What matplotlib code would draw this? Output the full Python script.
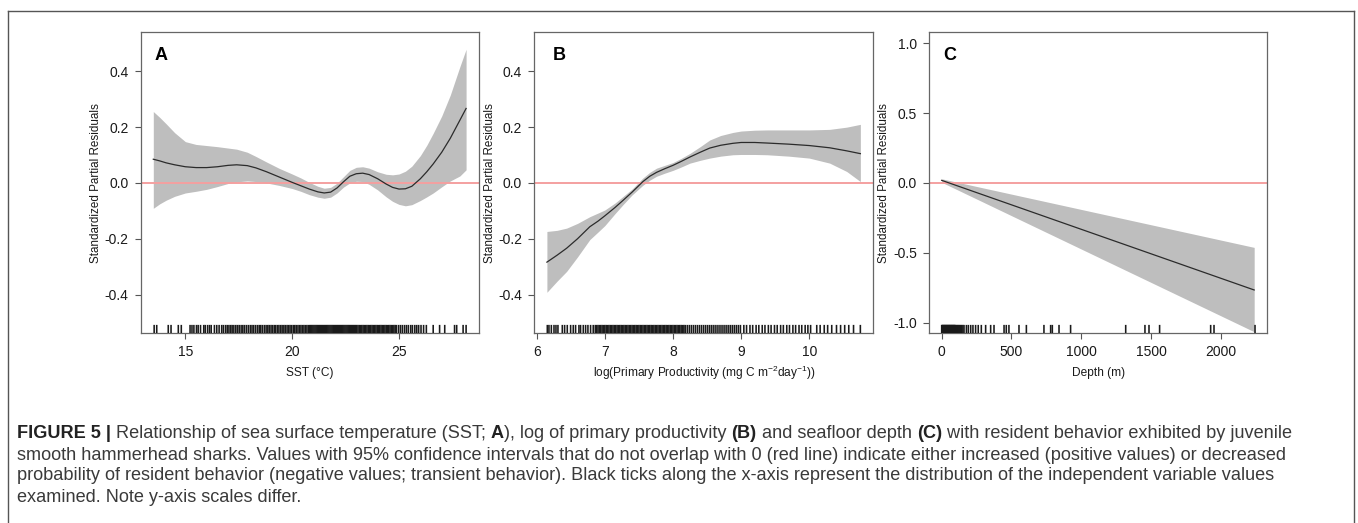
import matplotlib
matplotlib.use("Agg")
import matplotlib.pyplot as plt
from matplotlib.lines import Line2D

plt.rcParams['font.family'] = ['Liberation Sans', 'DejaVu Sans']
plt.rcParams['axes.unicode_minus'] = False
plt.rcParams['mathtext.fontset'] = 'custom'
plt.rcParams['mathtext.rm'] = 'Liberation Sans'
plt.rcParams['mathtext.it'] = 'Liberation Sans:italic'
plt.rcParams['mathtext.bf'] = 'Liberation Sans:bold'

# ---------------- data ----------------
# Panel A: SST
sst_x = [13.5, 13.8, 14.1, 14.5, 15.0, 15.5, 16.0, 16.5, 17.0, 17.4, 17.9, 18.3, 18.8, 19.4,
         20.0, 20.4, 20.8, 21.2, 21.5, 21.8, 22.1, 22.4, 22.7, 23.0, 23.3, 23.6, 24.0, 24.4,
         24.7, 25.0, 25.3, 25.6, 26.0, 26.3, 26.6, 27.0, 27.4, 27.85, 28.14]
sst_fit = [0.085, 0.079, 0.072, 0.065, 0.058, 0.055, 0.055, 0.058, 0.063, 0.065, 0.062, 0.054,
           0.040, 0.021, 0.002, -0.010, -0.022, -0.032, -0.036, -0.033, -0.018, 0.004, 0.024,
           0.033, 0.035, 0.030, 0.015, -0.004, -0.016, -0.022, -0.021, -0.012, 0.015, 0.040,
           0.068, 0.110, 0.160, 0.225, 0.267]
sst_upper = [0.256, 0.235, 0.212, 0.180, 0.148, 0.138, 0.134, 0.130, 0.125, 0.121, 0.110, 0.095,
             0.075, 0.052, 0.032, 0.018, 0.002, -0.012, -0.019, -0.016, -0.001, 0.022, 0.045,
             0.056, 0.058, 0.053, 0.040, 0.031, 0.029, 0.032, 0.042, 0.060, 0.098, 0.135, 0.178,
             0.240, 0.315, 0.417, 0.479]
sst_lower = [-0.091, -0.075, -0.062, -0.048, -0.036, -0.030, -0.023, -0.013, -0.002, 0.004, 0.007,
             0.005, 0.000, -0.009, -0.020, -0.030, -0.042, -0.051, -0.055, -0.051, -0.036, -0.015,
             0.000, 0.006, 0.005, -0.005, -0.025, -0.050, -0.066, -0.077, -0.082, -0.078, -0.063,
             -0.050, -0.036, -0.014, 0.007, 0.025, 0.047]
sst_rug = [13.54, 13.66, 14.20, 14.33, 14.67, 14.81,
           15.22, 15.31, 15.40, 15.52, 15.60, 15.71, 15.86, 15.93, 16.04, 16.13, 16.21, 16.36, 16.47,
           16.58, 16.70, 16.78, 16.88, 16.96, 17.04, 17.12, 17.19, 17.27, 17.36, 17.44, 17.52, 17.61,
           17.69, 17.77, 17.86, 17.95, 18.04, 18.12, 18.20, 18.29, 18.38, 18.46, 18.53, 18.61, 18.70,
           18.78, 18.86, 18.93, 19.01, 19.08, 19.16, 19.23, 19.31, 19.38, 19.46, 19.53, 19.61, 19.68,
           19.76, 19.83, 19.90, 19.97, 20.05, 20.12, 20.19, 20.27, 20.34, 20.41, 20.48, 20.55, 20.62,
           20.69, 20.76,
           20.82, 20.87, 20.92, 20.97, 21.02, 21.07, 21.12, 21.17, 21.22, 21.27, 21.32, 21.37, 21.42,
           21.47, 21.52, 21.57, 21.62, 21.67, 21.72, 21.77, 21.82, 21.87, 21.92, 21.97, 22.02, 22.07,
           22.12, 22.17, 22.22, 22.27, 22.32, 22.37, 22.42, 22.47, 22.52, 22.57, 22.62, 22.67, 22.72,
           22.77, 22.82, 22.87, 22.92, 22.97, 23.02,
           23.08, 23.14, 23.20, 23.26, 23.32, 23.38, 23.44, 23.50, 23.56, 23.62, 23.68, 23.74, 23.80,
           23.86, 23.92, 23.98, 24.04, 24.10, 24.16, 24.22, 24.28, 24.34, 24.40, 24.46, 24.52, 24.58,
           24.64, 24.70, 24.76, 24.82, 24.88,
           24.98, 25.07, 25.16, 25.26, 25.35, 25.44, 25.55, 25.63, 25.74, 25.83, 25.92, 26.03, 26.15,
           26.28, 26.60, 26.90, 27.14, 27.60, 27.70, 28.00, 28.14]

# Panel B: log primary productivity
pp_x = [6.15, 6.3, 6.44, 6.6, 6.78, 6.9, 7.0, 7.15, 7.27, 7.4, 7.56, 7.66, 7.76, 7.88, 8.0, 8.12,
        8.25, 8.4, 8.54, 8.7, 8.88, 9.0, 9.2, 9.38, 9.7, 10.0, 10.3, 10.55, 10.75]
pp_fit = [-0.284, -0.259, -0.234, -0.200, -0.157, -0.137, -0.118, -0.088, -0.062, -0.033, 0.005,
          0.024, 0.038, 0.051, 0.063, 0.077, 0.093, 0.110, 0.125, 0.135, 0.142, 0.145, 0.145,
          0.143, 0.139, 0.134, 0.126, 0.115, 0.105]
pp_upper = [-0.174, -0.170, -0.162, -0.145, -0.121, -0.108, -0.097, -0.072, -0.048, -0.022, 0.018,
            0.038, 0.053, 0.063, 0.073, 0.088, 0.106, 0.130, 0.154, 0.170, 0.181, 0.186, 0.189,
            0.190, 0.190, 0.190, 0.192, 0.200, 0.210]
pp_lower = [-0.392, -0.352, -0.317, -0.265, -0.203, -0.176, -0.153, -0.110, -0.077, -0.043, -0.008,
            0.010, 0.024, 0.035, 0.045, 0.057, 0.071, 0.081, 0.089, 0.096, 0.101, 0.102, 0.102,
            0.101, 0.096, 0.089, 0.071, 0.041, 0.005]
pp_rug = [6.156, 6.18, 6.215, 6.254, 6.283, 6.312, 6.376, 6.41, 6.449, 6.498, 6.537, 6.571, 6.62,
          6.644, 6.684, 6.718, 6.752, 6.791, 6.83,
          6.86, 6.88, 6.90, 6.92, 6.94, 6.96, 6.98, 7.00, 7.02, 7.04, 7.06, 7.08, 7.10, 7.12, 7.14,
          7.16, 7.18, 7.20, 7.22, 7.24, 7.26, 7.28, 7.30, 7.32, 7.34, 7.36, 7.38, 7.40, 7.42, 7.44,
          7.46, 7.48, 7.50, 7.52, 7.54, 7.56, 7.58, 7.60, 7.62, 7.64, 7.66, 7.68, 7.70, 7.72, 7.74,
          7.76, 7.78, 7.80, 7.82, 7.84, 7.86, 7.88, 7.90, 7.92, 7.94, 7.96, 7.98, 8.00, 8.02, 8.04,
          8.06, 8.08, 8.10, 8.12, 8.14, 8.16, 8.18,
          8.21, 8.24, 8.27, 8.30, 8.33, 8.36, 8.39, 8.42, 8.45, 8.48, 8.51, 8.54, 8.57, 8.60, 8.63,
          8.66, 8.69, 8.72, 8.75, 8.78, 8.81, 8.84, 8.87, 8.90, 8.93, 8.96, 8.99,
          9.04, 9.08, 9.13, 9.17, 9.22, 9.26, 9.31, 9.35, 9.40, 9.44, 9.49, 9.53, 9.58, 9.62, 9.67,
          9.71, 9.76, 9.80, 9.85, 9.89, 9.94, 9.98, 10.02,
          10.11, 10.16, 10.22, 10.27, 10.33, 10.40, 10.46, 10.52, 10.58, 10.65, 10.75]

# Panel C: depth
dep_x = [0, 2240]
dep_fit = [0.019, -0.766]
dep_upper = [0.030, -0.461]
dep_lower = [0.005, -1.065]
dep_rug = [0, 3, 6, 9, 12, 15, 18, 21, 24, 27, 30, 33, 36, 39, 42, 45, 48, 51, 54, 57, 60, 63, 66,
           69, 72, 75, 78, 81, 84, 87, 90, 93, 96, 100, 106, 112, 118, 124, 130, 137, 144, 152, 160,
           177, 191, 208, 224, 243, 262, 284, 315, 351, 375, 447, 463, 482, 554, 607, 733, 781, 793,
           841, 924, 1319, 1457, 1486, 1562, 1928, 1952, 2246]

panels = [
    dict(x=sst_x, fit=sst_fit, up=sst_upper, lo=sst_lower, rug=sst_rug, letter='A',
         xlim=(12.91, 28.73), ylim=(-0.538, 0.54), xticks=[15, 20, 25],
         yticks=[-0.4, -0.2, 0.0, 0.2, 0.4], yfmt='{:.1f}', xlabel='SST (°C)',
         left=140.7, right=478.7, lx=0.042),
    dict(x=pp_x, fit=pp_fit, up=pp_upper, lo=pp_lower, rug=pp_rug, letter='B',
         xlim=(5.965, 10.94), ylim=(-0.538, 0.54), xticks=[6, 7, 8, 9, 10],
         yticks=[-0.4, -0.2, 0.0, 0.2, 0.4], yfmt='{:.1f}',
         xlabel=r'log(Primary Productivity (mg C m$^{-2}$day$^{-1}$))',
         left=534.3, right=873.3, lx=0.055),
    dict(x=dep_x, fit=dep_fit, up=dep_upper, lo=dep_lower, rug=dep_rug, letter='C',
         xlim=(-91, 2334), ylim=(-1.074, 1.079), xticks=[0, 500, 1000, 1500, 2000],
         yticks=[-1.0, -0.5, 0.0, 0.5, 1.0], yfmt='{:.1f}', xlabel='Depth (m)',
         left=929.0, right=1267.3, lx=0.042),
]

W, H = 1358, 523
fig = plt.figure(figsize=(W / 100, H / 100), dpi=100)
fig.patch.set_facecolor('white')

top_px, bot_px = 32.3, 333.0
for p in panels:
    ax = fig.add_axes([p['left'] / W, (H - bot_px) / H, (p['right'] - p['left']) / W,
                       (bot_px - top_px) / H])
    ax.fill_between(p['x'], p['lo'], p['up'], color='#bebebe', linewidth=0, zorder=1)
    ax.plot(p['x'], p['fit'], color='#2b2b2b', linewidth=0.9, zorder=3,
            solid_joinstyle='round')
    ax.axhline(0, color='#f4a0a0', linewidth=1.4, zorder=2)
    ax.vlines(p['rug'], 0, 0.027, transform=ax.get_xaxis_transform(), color='#1a1a1a',
              linewidth=1.15, zorder=4, snap=False, antialiased=True)
    ax.set_xlim(p['xlim'])
    ax.set_ylim(p['ylim'])
    ax.set_xticks(p['xticks'])
    ax.set_xticklabels([str(t) for t in p['xticks']])
    ax.set_yticks(p['yticks'])
    ax.set_yticklabels([p['yfmt'].format(t) for t in p['yticks']])
    ax.tick_params(direction='out', length=4.2, width=0.8, color='#555555', labelsize=10,
                   labelcolor='#1a1a1a', pad=4.5)
    for s in ax.spines.values():
        s.set_color('#666666')
        s.set_linewidth(0.9)
    ax.set_xlabel(p['xlabel'], fontsize=8.6, color='#1a1a1a')
    ax.xaxis.label.set_va('center')
    ax.xaxis.set_label_coords(0.5, -0.133)
    ax.set_ylabel('Standardized Partial Residuals', fontsize=8.4, color='#1a1a1a')
    ax.yaxis.label.set_va('center')
    ax.yaxis.label.set_ha('center')
    ax.yaxis.set_label_coords(-0.132, 0.5)
    ax.text(p['lx'], 0.908, p['letter'], transform=ax.transAxes, fontsize=13,
            fontweight='bold', va='baseline', ha='left', color='black')

# outer frame (open at the bottom)
frame_kw = dict(color='#555555', linewidth=1.0, transform=fig.transFigure)
fig.add_artist(Line2D([8 / W, 8 / W], [0, 1 - 11 / H], **frame_kw))
fig.add_artist(Line2D([8 / W, 1354 / W], [1 - 11 / H, 1 - 11 / H], **frame_kw))
fig.add_artist(Line2D([1354 / W, 1354 / W], [0, 1 - 11 / H], **frame_kw))

# caption
caption_lines = [
    [("FIGURE 5 | ", 'bold'), ("Relationship of sea surface temperature (SST; ", 'normal'), ("A", 'bold'),
     ("), log of primary productivity ", 'normal'), ("(B)", 'bold'), (" and seafloor depth ", 'normal'),
     ("(C)", 'bold'), (" with resident behavior exhibited by juvenile", 'normal')],
    [("smooth hammerhead sharks. Values with 95% confidence intervals that do not overlap with 0 "
      "(red line) indicate either increased (positive values) or decreased", 'normal')],
    [("probability of resident behavior (negative values; transient behavior). Black ticks along the "
      "x-axis represent the distribution of the independent variable values", 'normal')],
    [("examined. Note y-axis scales differ.", 'normal')],
]
baselines = [438.5, 459.5, 480.5, 501.5]
renderer = fig.canvas.get_renderer()


def seg_width(txt, weight, size):
    t1 = fig.text(0, 0, '|' + txt + '|', fontsize=size, fontweight=weight)
    t2 = fig.text(0, 0, '||', fontsize=size, fontweight=weight)
    w = t1.get_window_extent(renderer).width - t2.get_window_extent(renderer).width
    t1.remove()
    t2.remove()
    return w


base_size = 11.0
w0 = sum(seg_width(t, wt, base_size) for t, wt in caption_lines[0])
cap_size = base_size * 1272.0 / w0

for segs, yb in zip(caption_lines, baselines):
    x = 17.0
    for txt, wt in segs:
        fig.text(x / W, 1 - yb / H, txt, fontsize=cap_size, fontweight=wt,
                 color='#222222' if wt == 'bold' else '#3a3a3a', va='baseline', ha='left')
        x += seg_width(txt, wt, cap_size)

fig.savefig('out.png', dpi=100)
